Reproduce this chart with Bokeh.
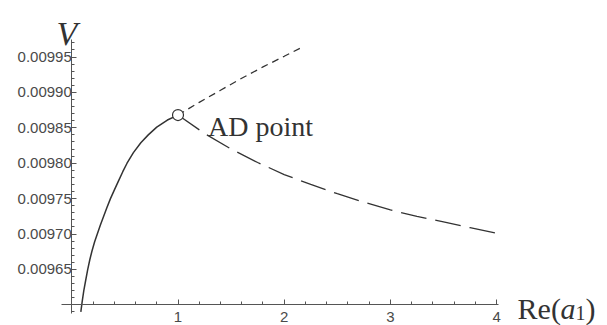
from bokeh.plotting import figure
from bokeh.models import Range1d, FixedTicker, NumeralTickFormatter
from bokeh.core.properties import value
from bokeh.embed import file_html
from bokeh.resources import INLINE

# --- data ---
x_solid = [0.085, 0.098, 0.113, 0.13, 0.15, 0.17, 0.19, 0.215, 0.24, 0.27, 0.30, 0.33,
           0.364, 0.40, 0.44, 0.48, 0.52, 0.58, 0.65, 0.72, 0.80, 0.90, 1.00]
v_solid = [0.009590, 0.009605, 0.009620, 0.009634, 0.009650, 0.009664, 0.009676, 0.009689,
           0.009700, 0.009713, 0.009725, 0.009737, 0.009750, 0.009762, 0.009775, 0.009788,
           0.009800, 0.009815, 0.009829, 0.009840, 0.009851, 0.009861, 0.009868]

x_upper = [1.0, 1.2, 1.4, 1.6, 1.8, 2.0, 2.17]
v_upper = [0.009868, 0.009886, 0.009903, 0.009920, 0.009936, 0.009951, 0.009964]

x_lower = [1.0, 1.25, 1.5, 1.75, 2.0, 2.25, 2.5, 2.75, 3.0, 3.25, 3.5, 3.75, 4.0]
v_lower = [0.009868, 0.009842, 0.009820, 0.009801, 0.009784, 0.009770, 0.009757,
           0.009745, 0.009734, 0.009725, 0.009717, 0.009709, 0.009701]

ad_x = [1.0]
ad_v = [0.009868]

x_ticks = [1, 2, 3, 4]
x_minor = [0.2, 0.4, 0.6, 0.8, 1.2, 1.4, 1.6, 1.8, 2.2, 2.4, 2.6, 2.8,
           3.2, 3.4, 3.6, 3.8]
y_ticks = [0.00965, 0.00970, 0.00975, 0.00980, 0.00985, 0.00990, 0.00995]
y_minor = [0.00959, 0.00961, 0.00962, 0.00963, 0.00964, 0.00966, 0.00967, 0.00968,
           0.00969, 0.00971, 0.00972, 0.00973, 0.00974, 0.00976, 0.00977, 0.00978,
           0.00979, 0.00981, 0.00982, 0.00983, 0.00984, 0.00986, 0.00987, 0.00988,
           0.00989, 0.00991, 0.00992, 0.00993, 0.00994, 0.00996, 0.00997]

CURVE = "#333333"
AXIS = "#555555"
LABEL = "#4a4a4a"

p = figure(width=607, height=325,
           x_range=Range1d(-0.6714, 5.0442), y_range=Range1d(0.0095708, 0.0100298),
           min_border=0, toolbar_location=None, output_backend="svg")
p.outline_line_color = None
p.xgrid.visible = False
p.ygrid.visible = False
p.background_fill_color = "white"
p.border_fill_color = "white"

# axes crossing at (0, 0.0096)
xa = p.xaxis[0]
xa.fixed_location = 0.0096
xa.bounds = (-0.1, 4.02)
xa.ticker = FixedTicker(ticks=x_ticks, minor_ticks=x_minor)
xa.axis_line_color = AXIS
xa.major_tick_line_color = AXIS
xa.minor_tick_line_color = AXIS
xa.major_tick_in = 5
xa.major_tick_out = 0
xa.minor_tick_in = 3
xa.minor_tick_out = 0
xa.major_label_standoff = 7
xa.major_label_text_font = "Liberation Sans"
xa.major_label_text_font_size = "15px"
xa.major_label_text_color = LABEL

ya = p.yaxis[0]
ya.fixed_location = 0
ya.bounds = (0.009588, 0.009975)
ya.ticker = FixedTicker(ticks=y_ticks, minor_ticks=y_minor)
ya.formatter = NumeralTickFormatter(format="0.00000")
ya.axis_line_color = AXIS
ya.major_tick_line_color = AXIS
ya.minor_tick_line_color = AXIS
ya.major_tick_in = 5
ya.major_tick_out = 0
ya.minor_tick_in = 3
ya.minor_tick_out = 0
ya.major_label_standoff = 0
ya.major_label_text_font = "Liberation Sans"
ya.major_label_text_font_size = "15px"
ya.major_label_text_color = LABEL

# curves
p.line(x_solid, v_solid, line_color=CURVE, line_width=1.5)
p.line(x_upper, v_upper, line_color=CURVE, line_width=1.3, line_dash="7 5")
p.line(x_lower, v_lower, line_color=CURVE, line_width=1.3, line_dash="26 9")
p.scatter(ad_x, ad_v, size=11, fill_color="white", line_color=CURVE, line_width=1.2)

# annotations
serif = value("Liberation Serif")
p.text(x=ad_x, y=ad_v, text=["AD point"], text_font=serif, text_font_size="28px",
       text_color=CURVE, text_baseline="alphabetic", text_align="left",
       x_offset=30, y_offset=11)

p.text(x=[0], y=[0.009983], text=["V"], text_font=serif, text_font_style="italic",
       text_font_size="34px", text_color=CURVE, text_baseline="alphabetic",
       text_align="center", x_offset=-5)

p.text(x=[4.0], y=[0.0096], text=["Re("], text_font=serif, text_font_size="30px",
       text_color=CURVE, text_baseline="alphabetic", text_align="left",
       x_offset=21, y_offset=4)
p.text(x=[4.0], y=[0.0096], text=["a"], text_font=serif, text_font_style="italic",
       text_font_size="30px", text_color=CURVE, text_baseline="alphabetic",
       text_align="left", x_offset=64, y_offset=4)
p.text(x=[4.0], y=[0.0096], text=["1"], text_font=serif, text_font_size="20px",
       text_color=CURVE, text_baseline="alphabetic", text_align="left",
       x_offset=79, y_offset=8)
p.text(x=[4.0], y=[0.0096], text=[")"], text_font=serif, text_font_size="30px",
       text_color=CURVE, text_baseline="alphabetic", text_align="left",
       x_offset=89, y_offset=4)

open("out.html", "w").write(file_html(p, INLINE))
